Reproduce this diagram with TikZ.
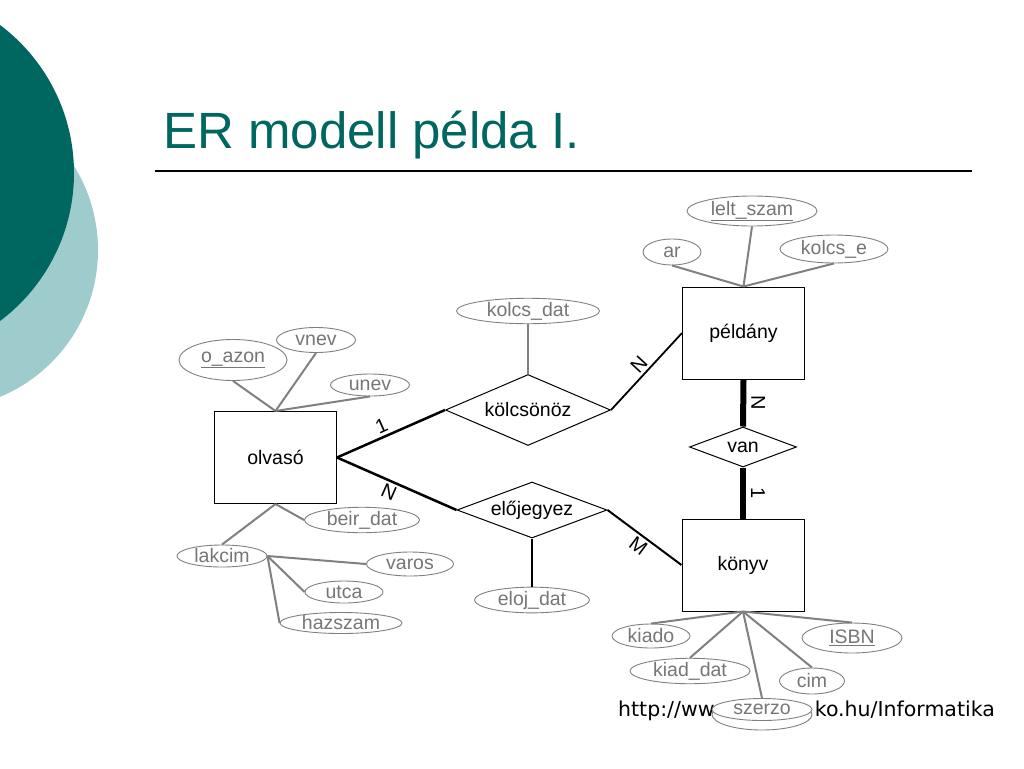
\documentclass[tikz,border=0pt]{standalone}
\usepackage{fontspec}
\setmainfont{Liberation Sans}
\newfontfamily\urlfont{DejaVu Sans}
\usetikzlibrary{shapes.geometric}
\definecolor{darkteal}{RGB}{0,102,96}
\definecolor{lightteal}{RGB}{158,203,204}
\definecolor{attrgray}{RGB}{128,128,128}
\definecolor{textgray}{RGB}{118,118,118}
\tikzset{
  entity/.style={draw, line width=1pt, inner sep=0pt, minimum width=122pt, minimum height=92pt, font=\fontsize{19.5}{22}\selectfont},
  relation/.style={diamond, draw, line width=1pt, inner sep=0pt, font=\fontsize{19.5}{22}\selectfont},
  attr/.style={ellipse, draw=attrgray, line width=0.9pt, fill=white, inner sep=0pt, text=textgray, font=\fontsize{19.5}{22}\selectfont},
  attrline/.style={attrgray, line width=2pt},
  card/.style={inner sep=2.5pt, font=\fontsize{20}{22}\selectfont},
  urltext/.style={inner sep=0pt, font=\urlfont\fontsize{20.5}{24}\selectfont}
}
\begin{document}
\begin{tikzpicture}[x=1pt,y=-1pt]
    \useasboundingbox (0,0) rectangle (1024,768);
    % circles on the left edge
    \begin{scope}
        \clip (0,0) rectangle (1024,768);
        \fill[lightteal] (-61,250) circle[radius=159pt];
        \fill[darkteal] (-111,173) circle[radius=185pt];
    \end{scope}
    % title
    \node[text=darkteal, inner sep=0pt, anchor=base west, font=\fontsize{51}{56}\selectfont] (title) at (163,148) {ER modell példa I.};
    \draw[line width=1.2pt] (155,171) -- (972,171);
    % entities and relations
    \node[entity] (olvaso) at (275.5,457.5) {olvasó};
    \node[entity] (peldany) at (743.5,333) {példány};
    \node[entity] (konyv) at (743,565) {könyv};
    \node[relation, shape aspect=2.3, minimum width=165pt, minimum height=71pt] (kolcsonoz) at (528,410) {kölcsönöz};
    \node[relation, shape aspect=2.7, minimum width=150pt, minimum height=56pt] (elojegyez) at (532,510) {előjegyez};
    \node[relation, shape aspect=2.7, minimum width=107pt, minimum height=40pt] (van) at (743,447) {van};
    \draw[line width=2.5pt] (olvaso.east) -- node[card, sloped, above, pos=0.45]{1} (kolcsonoz.west);
    \draw[line width=2.5pt] (olvaso.east) -- node[card, sloped, below, pos=0.47]{N} (elojegyez.west);
    \draw[line width=1.8pt] (kolcsonoz.east) -- node[card, sloped, above]{N} (peldany.west);
    \draw[line width=2pt] (elojegyez.east) -- node[card, sloped, below]{M} (konyv.west);
    \draw[line width=6pt] (peldany.south) -- node[card, rotate=-90, anchor=south, inner sep=5pt]{N} (van.north);
    \draw[line width=6pt] (van.south) -- node[card, rotate=-90, anchor=south, inner sep=5pt]{1} (konyv.north);
    % attributes
    \node[attr, minimum width=108pt, minimum height=41pt] (oazon) at (233,360) {\underline{o\_azon}};
    \node[attr, minimum width=79pt, minimum height=25pt] (vnev) at (316,340) {vnev};
    \node[attr, minimum width=79pt, minimum height=22pt] (unev) at (370,385) {unev};
    \node[attr, minimum width=115pt, minimum height=24pt] (beirdat) at (362,520) {beir\_dat};
    \node[attr, minimum width=90pt, minimum height=22pt] (lakcim) at (222,556) {lakcim};
    \node[attr, minimum width=87pt, minimum height=24pt] (varos) at (410,564) {varos};
    \node[attr, minimum width=78pt, minimum height=22pt] (utca) at (344,592) {utca};
    \node[attr, minimum width=122pt, minimum height=21pt] (hazszam) at (341,623) {hazszam};
    \node[attr, minimum width=143pt, minimum height=23pt] (kolcsdat) at (528,311) {kolcs\_dat};
    \node[attr, minimum width=115pt, minimum height=24pt] (elojdat) at (532,600) {eloj\_dat};
    \node[attr, minimum width=130pt, minimum height=30pt] (leltszam) at (752,211) {\underline{lelt\_szam}};
    \node[attr, minimum width=58pt, minimum height=26pt] (ar) at (672,252) {ar};
    \node[attr, minimum width=108pt, minimum height=28pt] (kolcse) at (834,249) {kolcs\_e};
    \node[attr, minimum width=78pt, minimum height=24pt] (kiado) at (651,636) {kiado};
    \node[attr, minimum width=120pt, minimum height=24pt] (kiaddat) at (690,671) {kiad\_dat};
    \node[attr, minimum width=65pt, minimum height=26pt] (cim) at (812,681) {cim};
    \node[attr, minimum width=100pt, minimum height=30pt] (isbn) at (852,638) {\underline{ISBN}};
    % source line, partly hidden by szerzo
    \node[urltext, anchor=base west] (urlleft) at (618,716) {http://ww};
    \node[urltext, anchor=base east] (urlright) at (995,716) {ko.hu/Informatika};
    \draw[attrgray, line width=0.9pt, fill=white] (762,714.5) ellipse[x radius=50pt, y radius=15.5pt];
    \node[attr, minimum width=100pt, minimum height=22pt] (szerzo) at (762,709.5) {szerzo};
    % attribute lines
    \draw[attrline] (oazon.south) -- (olvaso.north);
    \draw[attrline] (vnev.south) -- (olvaso.north);
    \draw[attrline] (unev.south) -- (olvaso.north);
    \draw[attrline] (olvaso.south) -- (beirdat.west);
    \draw[attrline] (olvaso.south) -- (lakcim.north);
    \draw[attrline] (lakcim.east) -- (varos.west);
    \draw[attrline] (lakcim.east) -- (utca.west);
    \draw[attrline] (lakcim.east) -- (hazszam.west);
    \draw[attrline] (kolcsdat.south) -- (kolcsonoz.north);
    \draw[line width=2pt] (elojegyez.south) -- (elojdat.north);
    \draw[attrline] (ar.south) -- (peldany.north);
    \draw[attrline] (leltszam.south) -- (peldany.north);
    \draw[attrline] (kolcse.south) -- (peldany.north);
    \draw[attrline] (konyv.south) -- (kiado.north);
    \draw[attrline] (konyv.south) -- (kiaddat.north);
    \draw[attrline] (konyv.south) -- (szerzo.north);
    \draw[attrline] (konyv.south) -- (cim.north);
    \draw[attrline] (konyv.south) -- (isbn.north);
\end{tikzpicture}
\end{document}
